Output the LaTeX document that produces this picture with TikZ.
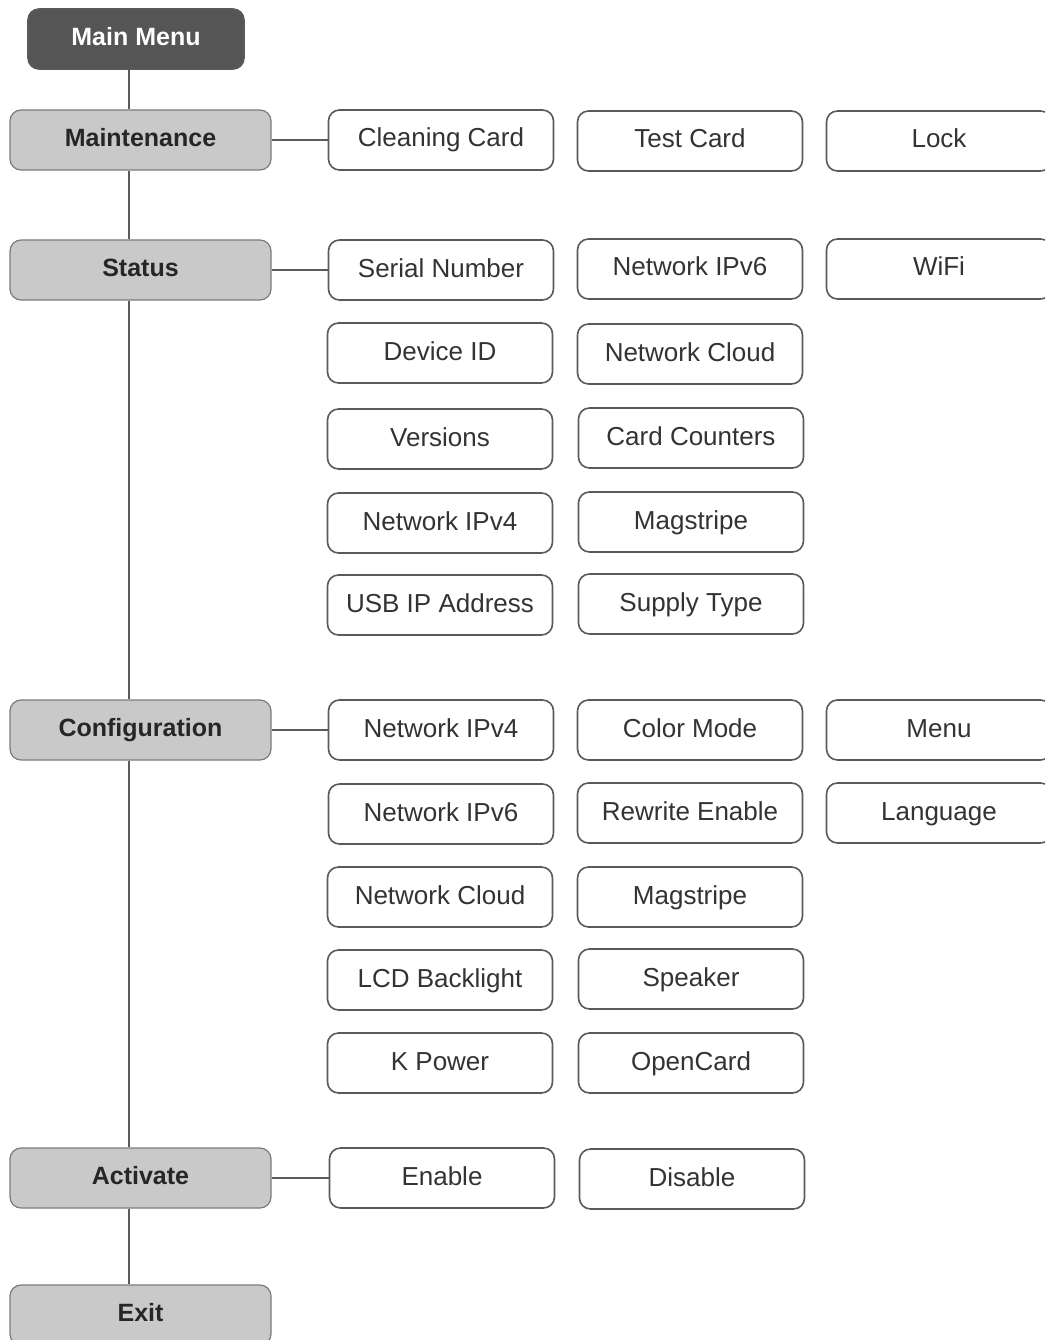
\documentclass[tikz,border=0pt]{standalone}
\usepackage{fontspec}
\setmainfont{Liberation Sans}
\definecolor{mmfill}{HTML}{555555}
\definecolor{catfill}{HTML}{C9C9C9}
\definecolor{edge}{HTML}{5A5A5A}
\begin{document}
\begin{tikzpicture}[x=1pt,y=-1pt,
  mainbox/.style={draw=edge, line width=1.6pt, fill=mmfill, rounded corners=11pt,
    minimum width=216pt, minimum height=60pt, inner sep=0pt,
    text height=18pt, text depth=5pt,
    text=white, font=\fontsize{25}{30}\selectfont\bfseries},
  catbox/.style={draw=edge!80, line width=1.2pt, fill=catfill, rounded corners=11pt,
    minimum width=261pt, minimum height=60pt, inner sep=0pt,
    text height=18pt, text depth=5pt,
    text=black!85, font=\fontsize{25}{30}\selectfont\bfseries},
  itembox/.style={draw=edge, line width=1.6pt, fill=white, rounded corners=11pt,
    minimum width=225pt, minimum height=60pt, inner sep=0pt,
    text height=19pt, text depth=5pt,
    text=black!80, font=\fontsize{26}{30}\selectfont},
  link/.style={draw=edge, line width=2pt}]
\useasboundingbox (0,0) rectangle (1044,1340);
% main column
\node [mainbox] (mm) at (136,39) {Main Menu};
\node [catbox] (maint) at (140.5,140) {Maintenance};
\node [catbox] (stat) at (140.5,270) {Status};
\node [catbox] (conf) at (140.5,730) {Configuration};
\node [catbox] (act) at (140.5,1178) {Activate};
\node [catbox] (exit) at (140.5,1315) {Exit};
\coordinate (trunk) at (129,69);
\foreach \a/\b in {mm/maint, maint/stat, stat/conf, conf/act, act/exit}
  \draw [link] (trunk |- \a.south) -- (trunk |- \b.north);
% maintenance
\node [itembox] (clean) at (441,140) {Cleaning Card};
\node [itembox] (test) at (690,141) {Test Card};
\node [itembox] (lock) at (939,141) {Lock};
% status
\node [itembox] (serial) at (441,270) {Serial Number};
\node [itembox] (sipv6) at (690,269) {Network IPv6};
\node [itembox] (wifi) at (939,269) {WiFi};
\node [itembox] (devid) at (440,353) {Device ID};
\node [itembox] (scloud) at (690,354) {Network Cloud};
\node [itembox] (vers) at (440,439) {Versions};
\node [itembox] (counters) at (691,438) {Card Counters};
\node [itembox] (sipv4) at (440,523) {Network IPv4};
\node [itembox] (smag) at (691,522) {Magstripe};
\node [itembox] (usbip) at (440,605) {USB IP Address};
\node [itembox] (supply) at (691,604) {Supply Type};
% configuration
\node [itembox] (cipv4) at (441,730) {Network IPv4};
\node [itembox] (color) at (690,730) {Color Mode};
\node [itembox] (menu) at (939,730) {Menu};
\node [itembox] (cipv6) at (441,814) {Network IPv6};
\node [itembox] (rewrite) at (690,813) {Rewrite Enable};
\node [itembox] (lang) at (939,813) {Language};
\node [itembox] (ccloud) at (440,897) {Network Cloud};
\node [itembox] (cmag) at (690,897) {Magstripe};
\node [itembox] (lcd) at (440,980) {LCD Backlight};
\node [itembox] (speaker) at (691,979) {Speaker};
\node [itembox] (kpower) at (440,1063) {K Power};
\node [itembox] (open) at (691,1063) {OpenCard};
% activate
\node [itembox] (enable) at (442,1178) {Enable};
\node [itembox] (disable) at (692,1179) {Disable};
% branches
\draw [link] (maint.east) -- (clean.west);
\draw [link] (stat.east) -- (serial.west);
\draw [link] (conf.east) -- (cipv4.west);
\draw [link] (act.east) -- (enable.west);
\end{tikzpicture}
\end{document}
